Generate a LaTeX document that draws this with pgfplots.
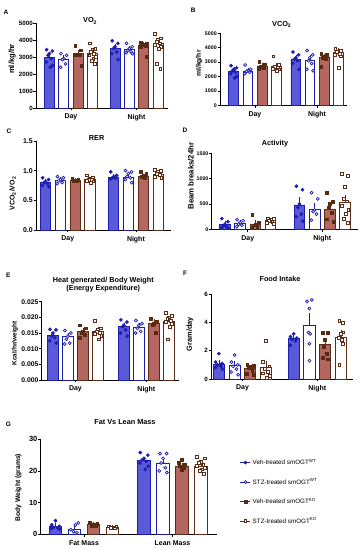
\documentclass[border=0pt]{standalone}
\usepackage{fontspec}
\setmainfont{Liberation Sans}
\usepackage{pgfplots}
\pgfplotsset{compat=1.18}

\definecolor{wtfill}{RGB}{90,90,216}
\definecolor{wtline}{RGB}{28,28,175}
\definecolor{kofill}{RGB}{180,102,96}
\definecolor{koline}{RGB}{92,44,22}
\definecolor{kopt}{RGB}{88,42,18}

\newcommand{\fs}[1]{\bfseries\fontsize{#1}{#1}\selectfont}

\pgfplotsset{
 gp/.style={
   scale only axis, anchor=south west, clip=false,
   axis x line=bottom, axis y line=left,
   axis line style={-, line width=0.8pt},
   tick align=outside, major tick length=2.5bp,
   every tick/.style={black, line width=0.7pt},
   ymin=0, bar width=0.7,
   x tick label style={font=\fs{7}},
   yticklabel style={inner xsep=0.6bp},
   /pgf/number format/assume math mode=true,
   /pgf/number format/1000 sep={},
   scaled y ticks=false,
   title style={font=\fs{7.3}, anchor=center, align=center},
 },
 yl/.style n args={3}{ylabel style={font=\fs{#1}, at={(axis description cs:#2,#3)}, anchor=center}},
 eb/.style={error bars/.cd, y dir=plus, y explicit,
   error bar style={line width=0.6pt, #1},
   error mark options={line width=0.6pt, #1, mark size=2bp}},
 b1/.style={ybar, bar shift=0pt, fill=wtfill, draw=wtline, line width=0.8pt, forget plot, eb=wtline},
 b2/.style={ybar, bar shift=0pt, fill=white, draw=wtline, line width=0.8pt, forget plot, eb=wtline},
 b3/.style={ybar, bar shift=0pt, fill=kofill, draw=koline, line width=0.8pt, forget plot, eb=koline},
 b4/.style={ybar, bar shift=0pt, fill=white, draw=koline, line width=0.8pt, forget plot, eb=koline},
 s1/.style={only marks, mark=*, mark size=1.6bp, draw=wtline, fill=wtline, line width=0.5pt},
 s2/.style={only marks, mark=*, mark size=1.5bp, draw=wtline, fill=white, line width=0.7pt},
 s3/.style={only marks, mark=square*, mark size=1.4bp, draw=kopt, fill=kopt, line width=0.5pt},
 s4/.style={only marks, mark=square*, mark size=1.4bp, draw=koline, fill=white, line width=0.7pt},
}

\begin{document}
\begin{tikzpicture}
\path[use as bounding box] (0,0) rectangle (359bp,550bp);

% ---------------- A : VO2
\begin{axis}[gp, at={(36bp,442bp)}, width=132bp, height=85bp,
  xmin=0.06, xmax=9.28, ymax=5000, ytick={0,1000,2000,3000,4000,5000},
  yticklabel style={font=\fs{6.2}},
  xtick={2.5,7.08}, xticklabels={Day,Night},
  ylabel={ml/kg/hr}, yl={7.6}{-0.18}{0.576},
  title={VO\textsubscript{2}}, title style={at={(axis description cs:0.41,0.953)}}]
\addplot[b1] coordinates {(1,2950) +- (0,150) (5.58,3500) +- (0,140)};
\addplot[b2] coordinates {(2,2880) +- (0,130) (6.58,3430) +- (0,90)};
\addplot[b3] coordinates {(3,3200) +- (0,120) (7.58,3690) +- (0,100)};
\addplot[b4] coordinates {(4,3230) +- (0,110) (8.58,3800) +- (0,170)};
\addplot[s1] coordinates {(0.8,3430)(1.2,3350)(1,3200)(0.9,3100)(1.12,2900)(0.78,2700)(1.22,2500)(1.06,2400)
 (5.38,3950)(5.78,3800)(5.58,3600)(5.48,3500)(5.70,3300)(5.36,3200)(5.80,2850)};
\addplot[s2] coordinates {(1.8,3200)(2.2,3100)(2,2900)(1.9,2850)(2.12,2600)(1.78,2400)
 (6.38,3800)(6.78,3600)(6.58,3500)(6.48,3400)(6.70,3300)(6.36,3250)(6.80,3200)};
\addplot[s3] coordinates {(2.8,3650)(3.2,3400)(3,3150)(2.9,3150)(3.12,3100)(2.78,3100)(3.22,2500)
 (7.38,3850)(7.78,3800)(7.58,3750)(7.48,3700)(7.70,3650)(7.36,3600)(7.80,3000)};
\addplot[s4] coordinates {(3.8,3800)(4.2,3500)(4,3400)(3.9,3300)(4.12,3200)(3.78,3100)(4.22,3000)(4.06,2900)(3.94,2750)(4.16,2600)
 (8.38,4350)(8.78,4100)(8.58,4000)(8.48,3900)(8.70,3800)(8.36,3700)(8.80,3600)(8.64,3500)(8.52,2600)(8.74,2300)};
\end{axis}

% ---------------- B : VCO2
\begin{axis}[gp, at={(220bp,444.7bp)}, width=127bp, height=72bp,
  xmin=0.02, xmax=9.03, ymax=5000, ytick={0,1000,2000,3000,4000,5000},
  yticklabel style={font=\fs{5.3}},
  xtick={2.5,6.9}, xticklabels={Day,Night},
  ylabel={ml/kg/hr}, yl={6.8}{-0.165}{0.58},
  title={VCO\textsubscript{2}}, title style={at={(axis description cs:0.486,1.036)}}]
\addplot[b1] coordinates {(1,2380) +- (0,110) (5.4,3190) +- (0,150)};
\addplot[b2] coordinates {(2,2380) +- (0,80) (6.4,3150) +- (0,180)};
\addplot[b3] coordinates {(3,2700) +- (0,70) (7.4,3310) +- (0,120)};
\addplot[b4] coordinates {(4,2680) +- (0,100) (8.4,3680) +- (0,140)};
\addplot[s1] coordinates {(0.8,2750)(1.2,2600)(1,2500)(0.9,2400)(1.12,2300)(0.78,2200)(1.22,2000)(1.06,1900)
 (5.2,3700)(5.6,3500)(5.4,3300)(5.3,3200)(5.52,3100)(5.18,2900)(5.62,2500)};
\addplot[s2] coordinates {(1.8,2800)(2.2,2500)(2,2400)(1.9,2350)(2.12,2300)(1.78,2200)
 (6.2,3800)(6.6,3500)(6.4,3300)(6.3,3100)(6.52,2900)(6.18,2500)(6.62,2400)};
\addplot[s3] coordinates {(2.8,3050)(3.2,2800)(3,2700)(2.9,2650)(3.12,2600)(2.78,2550)
 (7.2,3600)(7.6,3500)(7.4,3400)(7.3,3300)(7.52,3200)(7.18,2700)};
\addplot[s4] coordinates {(3.8,3400)(4.2,2800)(4,2700)(3.9,2650)(4.12,2600)(3.78,2550)(4.22,2500)(4.06,2400)
 (8.2,3900)(8.6,3800)(8.4,3750)(8.3,3700)(8.52,3600)(8.18,3500)(8.62,3400)(8.46,2600)};
\end{axis}

% ---------------- C : RER
\begin{axis}[gp, at={(36bp,320bp)}, width=134.7bp, height=89bp,
  xmin=0.35, xmax=9.45, ymax=1.5, ytick={0,0.5,1,1.5},
  yticklabel style={font=\fs{7}, /pgf/number format/.cd, fixed, fixed zerofill, precision=1},
  xtick={2.5,7.1}, xticklabels={Day,Night},
  ylabel={VCO\textsubscript{2}/VO\textsubscript{2}}, yl={7}{-0.173}{0.41},
  title={RER}, title style={at={(axis description cs:0.45,0.966)}}]
\addplot[b1] coordinates {(1,0.80) +- (0,0.02) (5.6,0.89) +- (0,0.02)};
\addplot[b2] coordinates {(2,0.84) +- (0,0.02) (6.6,0.89) +- (0,0.025)};
\addplot[b3] coordinates {(3,0.84) +- (0,0.01) (7.6,0.90) +- (0,0.015)};
\addplot[b4] coordinates {(4,0.85) +- (0,0.015) (8.6,0.94) +- (0,0.02)};
\addplot[s1] coordinates {(0.8,0.88)(1.2,0.85)(1,0.82)(0.9,0.80)(1.12,0.78)(0.78,0.75)(1.22,0.73)
 (5.4,0.98)(5.8,0.92)(5.6,0.90)(5.5,0.88)(5.72,0.87)(5.38,0.86)};
\addplot[s2] coordinates {(1.8,0.90)(2.2,0.88)(2,0.85)(1.9,0.83)(2.12,0.80)(1.78,0.78)
 (6.4,1.00)(6.8,0.98)(6.6,0.95)(6.5,0.90)(6.72,0.88)(6.38,0.85)(6.82,0.80)};
\addplot[s3] coordinates {(2.8,0.86)(3.2,0.85)(3,0.84)(2.9,0.83)(3.12,0.82)
 (7.4,0.98)(7.8,0.95)(7.6,0.92)(7.5,0.90)(7.72,0.88)};
\addplot[s4] coordinates {(3.8,0.92)(4.2,0.88)(4,0.86)(3.9,0.85)(4.12,0.84)(3.78,0.83)(4.22,0.82)(4.06,0.80)
 (8.4,1.02)(8.8,1.00)(8.6,0.98)(8.5,0.95)(8.72,0.93)(8.38,0.90)(8.82,0.88)};
\end{axis}

% ---------------- D : Activity
\begin{axis}[gp, at={(211.7bp,320.7bp)}, width=146.3bp, height=76bp,
  xmin=0.13, xmax=9.75, ymax=1500, ytick={0,500,1000,1500},
  yticklabel style={font=\fs{5.3}},
  xtick={2.5,7.4}, xticklabels={Day,Night},
  ylabel={Beam breaks/24hr}, yl={7.8}{-0.142}{0.7},
  title={Activity}, title style={at={(axis description cs:0.433,1.043)}}]
\addplot[b1] coordinates {(1,100) +- (0,30) (5.9,480) +- (0,110)};
\addplot[b2] coordinates {(2,120) +- (0,25) (6.9,395) +- (0,85)};
\addplot[b3] coordinates {(3,105) +- (0,35) (7.9,395) +- (0,75)};
\addplot[b4] coordinates {(4,170) +- (0,15) (8.9,530) +- (0,100)};
\addplot[s1] coordinates {(0.8,210)(1.2,150)(1,100)(0.9,70)(1.12,50)(0.78,30)(1.22,20)
 (5.7,850)(6.1,780)(5.9,500)(5.8,430)(6.02,300)(5.68,250)(6.12,160)};
\addplot[s2] coordinates {(1.8,190)(2.2,170)(2,130)(1.9,100)(2.12,80)(1.78,50)
 (6.7,720)(7.1,600)(6.9,380)(6.8,350)(7.02,300)(6.68,180)};
\addplot[s3] coordinates {(2.8,290)(3.2,140)(3,100)(2.9,80)(3.12,50)(2.78,30)
 (7.7,720)(8.1,540)(7.9,510)(7.8,420)(8.02,330)(7.68,200)(8.12,150)};
\addplot[s4] coordinates {(3.8,210)(4.2,200)(4,180)(3.9,160)(4.12,140)(3.78,120)(4.22,100)
 (8.7,1100)(9.1,1050)(8.9,830)(8.8,600)(9.02,550)(8.68,460)(9.12,380)(8.96,300)(8.84,200)(9.06,120)};
\end{axis}

% ---------------- E : Heat
\begin{axis}[gp, at={(41.7bp,170bp)}, width=137.7bp, height=78.3bp,
  xmin=0.25, xmax=9.43, ymax=0.025, ytick={0,0.005,0.01,0.015,0.02,0.025},
  yticklabel style={font=\fs{6.8}, /pgf/number format/.cd, fixed, fixed zerofill, precision=3},
  xtick={2.5,7.23}, xticklabels={Day,Night},
  ylabel={Kcal/hr/weight}, yl={6.5}{-0.194}{0.47},
  title={Heat generated/ Body Weight\\(Energy Expenditure)}, title style={at={(axis description cs:0.447,1.14)}}]
\addplot[b1] coordinates {(1,0.0141) +- (0,0.0006) (5.73,0.0170) +- (0,0.0007)};
\addplot[b2] coordinates {(2,0.0138) +- (0,0.0007) (6.73,0.0168) +- (0,0.0006)};
\addplot[b3] coordinates {(3,0.0154) +- (0,0.0006) (7.73,0.0181) +- (0,0.0007)};
\addplot[b4] coordinates {(4,0.0156) +- (0,0.0006) (8.73,0.0186) +- (0,0.0008)};
\addplot[s1] coordinates {(0.8,0.0162)(1.2,0.0160)(1,0.0150)(0.9,0.0140)(1.12,0.0135)(0.78,0.0125)(1.22,0.0118)
 (5.53,0.0192)(5.93,0.0185)(5.73,0.0175)(5.63,0.0170)(5.85,0.0160)(5.51,0.0150)(5.95,0.0140)};
\addplot[s2] coordinates {(1.8,0.0158)(2.2,0.0150)(2,0.0140)(1.9,0.0130)(2.12,0.0118)(1.78,0.0115)
 (6.53,0.0190)(6.93,0.0180)(6.73,0.0175)(6.63,0.0165)(6.85,0.0155)(6.51,0.0150)};
\addplot[s3] coordinates {(2.8,0.0175)(3.2,0.0165)(3,0.0155)(2.9,0.0150)(3.12,0.0145)(2.78,0.0135)
 (7.53,0.0195)(7.93,0.0185)(7.73,0.0180)(7.63,0.0175)(7.85,0.0150)};
\addplot[s4] coordinates {(3.8,0.0190)(4.2,0.0165)(4,0.0160)(3.9,0.0155)(4.12,0.0150)(3.78,0.0148)(4.22,0.0140)(4.06,0.0130)
 (8.53,0.0215)(8.93,0.0205)(8.73,0.0200)(8.63,0.0195)(8.85,0.0190)(8.51,0.0185)(8.95,0.0180)(8.79,0.0170)(8.67,0.0130)};
\end{axis}

% ---------------- F : Food intake
\begin{axis}[gp, at={(211bp,171bp)}, width=142bp, height=84.7bp,
  xmin=0.5, xmax=9.52, ymax=6, ytick={0,2,4,6},
  yticklabel style={font=\fs{6.2}},
  xtick={2.5,7.25}, xticklabels={Day,Night},
  ylabel={Gram/day}, yl={7.4}{-0.148}{0.53},
  title={Food Intake}, title style={at={(axis description cs:0.486,1.11)}}]
\addplot[b1] coordinates {(1,1.06) +- (0,0.13) (5.75,2.9) +- (0,0.12)};
\addplot[b2] coordinates {(2,0.95) +- (0,0.18) (6.75,3.8) +- (0,0.75)};
\addplot[b3] coordinates {(3,0.76) +- (0,0.1) (7.75,2.45) +- (0,0.3)};
\addplot[b4] coordinates {(4,0.83) +- (0,0.3) (8.75,2.95) +- (0,0.35)};
\addplot[s1] coordinates {(1,1.8)(0.8,1.2)(1.2,1.1)(0.9,1.0)(1.12,0.9)(0.78,0.8)(1.22,0.7)
 (5.75,3.2)(5.55,3.0)(5.95,2.9)(5.65,2.8)(5.87,2.7)(5.53,2.4)};
\addplot[s2] coordinates {(2,1.7)(1.8,1.2)(2.2,1.0)(1.9,0.9)(2.12,0.7)(1.78,0.5)(2.22,0.3)
 (6.6,5.5)(6.9,5.6)(6.75,5.0)(6.7,3.3)(6.8,3.2)(6.75,2.5)(6.75,1.3)};
\addplot[s3] coordinates {(2.8,1.0)(3.2,0.95)(3,0.9)(2.9,0.8)(3.12,0.6)(2.78,0.4)(3.22,0.3)
 (7.6,3.3)(7.9,3.3)(7.75,2.8)(7.65,2.3)(7.85,1.8)(7.6,1.5)(7.9,1.4)};
\addplot[s4] coordinates {(4,2.7)(3.8,1.2)(4.2,0.9)(3.9,0.7)(4.12,0.5)(3.78,0.4)(4.22,0.2)(4.06,0.1)
 (8.65,4.1)(8.85,4.0)(8.9,3.3)(8.75,3.2)(8.6,2.9)(8.8,2.8)(8.9,2.5)(8.65,1.0)};
\end{axis}

% ---------------- G : Fat vs Lean
\begin{axis}[gp, at={(40.7bp,15.7bp)}, width=176.3bp, height=95bp,
  xmin=0.22, xmax=9.5, ymax=30, ytick={0,10,20,30}, bar width=0.65,
  yticklabel style={font=\fs{7.5}},
  xtick={2.5,7.16}, xticklabels={Fat Mass,Lean Mass},
  ylabel={Body Weight (grams)}, yl={6.8}{-0.127}{0.49},
  title={Fat Vs Lean Mass}, title style={at={(axis description cs:0.478,1.116)}},
  legend style={at={(axis description cs:1.13,0.815)}, anchor=north west, draw=none, fill=none,
    font=\fontsize{6.3}{7}\selectfont, row sep=8.5bp, inner sep=0pt, cells={anchor=west}},
  legend image code/.code={
    \draw[#1] (0cm,0cm) -- (0.35cm,0cm);
    \draw[#1] plot coordinates {(0.175cm,0cm)};
  }]
\addplot[b1] coordinates {(1,2.6) +- (0,0.4) (5.66,23.2) +- (0,0.6)};
\addplot[b2] coordinates {(2,1.7) +- (0,0.5) (6.66,22.4) +- (0,0.9)};
\addplot[b3] coordinates {(3,3.0) +- (0,0.15) (7.66,21.5) +- (0,0.5)};
\addplot[b4] coordinates {(4,2.2) +- (0,0.1) (8.66,21.5) +- (0,0.6)};
\addplot[s1] coordinates {(1,4.3)(0.8,3.0)(1.2,2.5)(0.9,2.2)(1.12,2.0)(0.78,1.8)(1.22,1.6)
 (5.46,25.8)(5.86,25.0)(5.66,24.0)(5.56,23.5)(5.78,23.0)(5.44,22.5)(5.88,21.5)(5.72,20.5)};
\addlegendentry{Veh-treated smOGT\textsuperscript{WT}}
\addplot[s2] coordinates {(2.2,3.6)(2.05,3.0)(1.8,1.5)(1.95,0.8)(2.12,0.5)
 (6.5,25.5)(6.85,25.5)(6.66,24.0)(6.56,22.5)(6.78,21.0)(6.46,20.0)(6.86,19.5)};
\addlegendentry{STZ-treated smOGT\textsuperscript{WT}}
\addplot[s3] coordinates {(2.8,3.6)(3.2,3.3)(3,3.0)(2.9,2.8)(3.12,2.7)
 (7.66,23.5)(7.5,22.5)(7.8,22.0)(7.56,21.5)(7.76,21.0)(7.66,20.5)};
\addlegendentry{Veh-treated smOGT\textsuperscript{KO}}
\addplot[s4] coordinates {(3.8,2.5)(4.2,2.3)(4,2.2)(3.9,2.0)(4.12,1.9)
 (8.46,24.5)(8.86,24.0)(8.66,23.0)(8.56,22.5)(8.78,22.0)(8.44,21.5)(8.88,21.0)(8.72,20.5)(8.6,20.0)(8.82,19.0)};
\addlegendentry{STZ-treated smOGT\textsuperscript{KO}}
\end{axis}

% panel letters
\begin{scope}[every node/.style={font=\fs{6.5}, inner sep=0pt}]
\node at (6bp,537.7bp) {A};
\node at (193.3bp,540bp) {B};
\node at (9bp,419bp) {C};
\node at (185bp,420bp) {D};
\node at (8.3bp,275bp) {E};
\node at (185bp,276.7bp) {F};
\node at (8.3bp,125.7bp) {G};
\end{scope}
\end{tikzpicture}
\end{document}
